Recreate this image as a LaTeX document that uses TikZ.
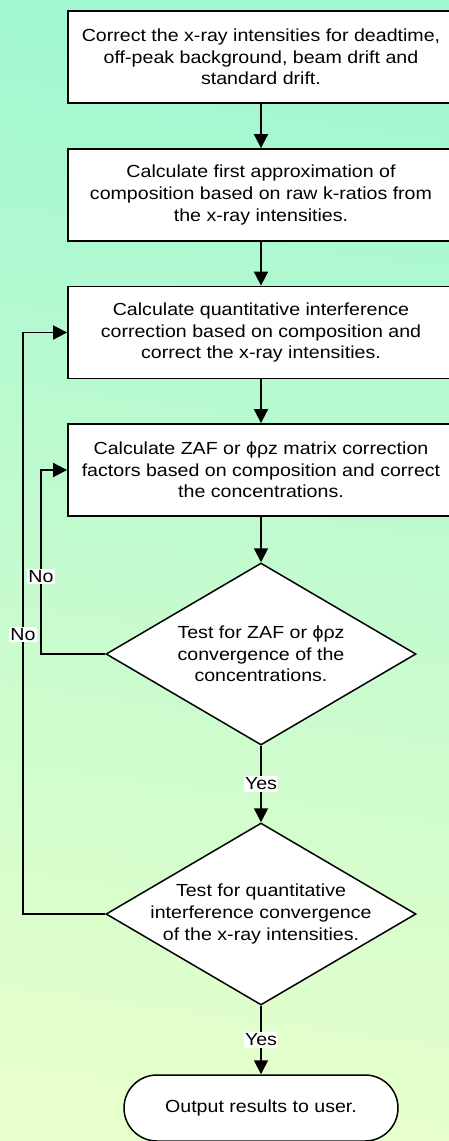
\documentclass[tikz,border=0pt]{standalone}
\usepackage{fontspec}
\setmainfont{Liberation Sans}[FakeStretch=1.12]
\usetikzlibrary{shapes.geometric,arrows.meta}
\definecolor{bgTop}{HTML}{A0F7D2}
\definecolor{bgBottom}{HTML}{E6FFCB}
\begin{document}
\begin{tikzpicture}[x=1pt, y=-1pt,
    textFont/.style={font=\fontsize{17.5}{21.7}\selectfont},
    boxStyle/.style={rectangle, draw, line width=1.8pt, fill=white, minimum width=386pt, minimum height=92pt, align=center, textFont},
    testStyle/.style={diamond, draw, line width=1.5pt, fill=white, minimum width=310pt, minimum height=182pt, inner sep=0pt},
    testText/.style={align=center, textFont},
    endStyle/.style={rectangle, rounded corners=33pt, draw, line width=1.5pt, fill=white, minimum width=274pt, minimum height=66pt, textFont},
    labelStyle/.style={fill=white, inner sep=1.5pt, textFont},
    flowStyle/.style={line width=1.8pt, -{Triangle[length=14pt, width=14pt]}}]
    \shade[top color=bgTop, bottom color=bgBottom, shading angle=-8] (0,0) rectangle (449,1141);
    \useasboundingbox (0,0) rectangle (449,1141);

    \node[boxStyle] (correct)  at (261,57)    {Correct the x-ray intensities for deadtime,\\ off-peak background, beam drift and\\ standard drift.};
    \node[boxStyle] (first)    at (261,195)   {Calculate first approximation of\\ composition based on raw k-ratios from\\ the x-ray intensities.};
    \node[boxStyle] (interf)   at (261,332.5) {Calculate quantitative interference\\ correction based on composition and\\ correct the x-ray intensities.};
    \node[boxStyle] (zaf)      at (261,470)   {Calculate ZAF or ϕρz matrix correction\\ factors based on composition and correct\\ the concentrations.};

    \node[testStyle] (test_zaf)    at (261,654) {};
    \node[testText] at (test_zaf.center) {Test for ZAF or ϕρz\\ convergence of the\\ concentrations.};
    \node[testStyle] (test_interf) at (261,914) {};
    \node[testText] at (test_interf.center) {Test for quantitative\\ interference convergence\\ of the x-ray intensities.};

    \node[endStyle] (output) at (261,1108) {Output results to user.};

    \coordinate (loop_zaf)    at (41,654);
    \coordinate (loop_interf) at (23,914);

    \draw[flowStyle] (correct.south) -- (first.north);
    \draw[flowStyle] (first.south) -- (interf.north);
    \draw[flowStyle] (interf.south) -- (zaf.north);
    \draw[flowStyle] (zaf.south) -- (test_zaf.north);
    \draw[flowStyle] (test_zaf.south) -- node[labelStyle] {Yes} (test_interf.north);
    \draw[flowStyle] (test_interf.south) -- node[labelStyle] {Yes} (output.north);

    \draw[flowStyle] (test_zaf.west) -- (loop_zaf) |- node[labelStyle, pos=0.21] {No} (zaf.west);
    \draw[flowStyle] (test_interf.west) -- (loop_interf) |- node[labelStyle, pos=0.24] {No} (interf.west);
\end{tikzpicture}
\end{document}
